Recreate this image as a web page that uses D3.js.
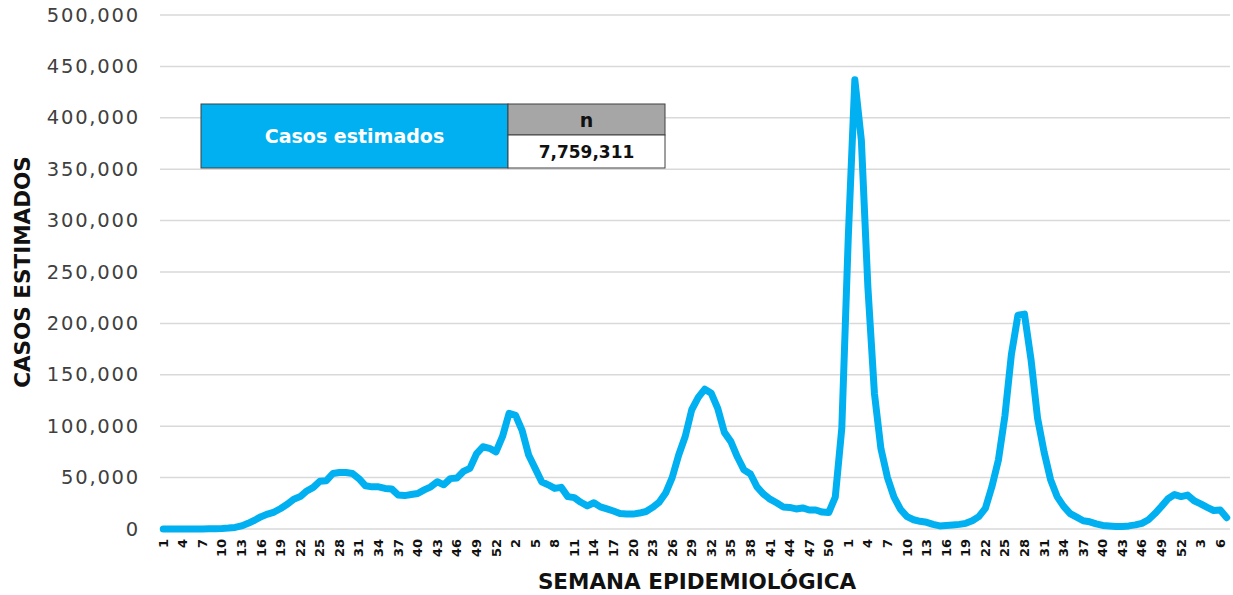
<!DOCTYPE html>
<html>
<head>
<meta charset="utf-8">
<script src="https://cdn.jsdelivr.net/npm/d3@7/dist/d3.min.js"></script>
<style>
  html, body { margin: 0; padding: 0; background: #fff; }
  svg { display: block; }
</style>
</head>
<body>
<svg id="chart" width="1233" height="595"></svg>
<script>
// ---- Data ----
const weeks2020 = [1,2,3,4,5,6,7,8,9,10,11,12,13,14,15,16,17,18,19,20,21,22,23,24,25,26,27,28,29,30,31,32,33,34,35,36,37,38,39,40,41,42,43,44,45,46,47,48,49,50,51,52,53];
const weeks2021 = [1,2,3,4,5,6,7,8,9,10,11,12,13,14,15,16,17,18,19,20,21,22,23,24,25,26,27,28,29,30,31,32,33,34,35,36,37,38,39,40,41,42,43,44,45,46,47,48,49,50,51,52];
const weeks2022 = [1,2,3,4,5,6,7,8,9,10,11,12,13,14,15,16,17,18,19,20,21,22,23,24,25,26,27,28,29,30,31,32,33,34,35,36,37,38,39,40,41,42,43,44,45,46,47,48,49,50,51,52];
const weeks2023 = [1,2,3,4,5,6,7];

const cases2020 = [0,0,0,0,0,0,100,200,300,500,900,1500,3000,5500,8500,12000,14500,16500,20000,24000,29000,31500,37000,40500,46500,47000,54000,55000,55000,54000,49000,42000,41000,41000,39500,39000,33000,32500,33500,34500,38000,41000,46000,43000,49000,49500,56000,59000,73000,80000,78500,75000,90000];
const cases2021 = [112500,110500,96000,72000,59000,46000,43000,39500,40500,31500,30500,26000,22500,25500,21500,19500,17500,15000,14500,14500,15500,17000,21000,26000,35000,50000,72000,90000,116000,128000,136000,132000,117000,94000,85000,70000,57500,53500,41000,34000,29000,25500,21500,21000,19500,20500,18500,18500,16500,16000,31000,98000];
const cases2022 = [285000,437000,378000,235000,132000,78000,50000,31000,19000,12000,9000,7500,6500,4500,3000,3500,4000,4500,5500,8000,12000,20000,41000,67000,110000,170000,208000,209000,165000,108000,75000,48000,31500,22000,15000,11500,8000,7000,5000,3500,3000,2500,2500,3000,4000,5500,9000,15000,22000,29500,33500,31500];
const cases2023 = [33000,27500,24500,21000,18000,18500,11000];

const yTicks = [0,50000,100000,150000,200000,250000,300000,350000,400000,450000,500000];
const tableLabel = "Casos estimados";
const tableHeader = "n";
const tableTotal = "7,759,311";
const yTitle = "CASOS ESTIMADOS";
const xTitle = "SEMANA EPIDEMIOLÓGICA";

(function () {
  const weekLabels = [].concat(weeks2020, weeks2021, weeks2022, weeks2023);
  const cases = [].concat(cases2020, cases2021, cases2022, cases2023);
  const idx = d3.range(cases.length);

  const svg = d3.select("#chart");
  const pLeft = 160, pRight = 1230, pTop = 15, pBottom = 529;

  const x = d3.scalePoint().domain(idx).range([pLeft, pRight]).padding(0.5);
  const y = d3.scaleLinear().domain([0, 500000]).range([pBottom, pTop]);

  const FONT = "'DejaVu Sans', sans-serif";

  // gridlines
  svg.append("g").selectAll("line").data(yTicks).join("line")
    .attr("x1", pLeft).attr("x2", pRight)
    .attr("y1", d => y(d)).attr("y2", d => y(d))
    .attr("stroke", "#d9d9d9").attr("stroke-width", 1.5);

  // y axis labels
  const fmt = d3.format(",");
  svg.append("g").selectAll("text").data(yTicks).join("text")
    .attr("x", 140).attr("y", d => y(d))
    .attr("text-anchor", "end").attr("dominant-baseline", "central")
    .attr("font-family", FONT).attr("font-size", 19.5)
    .attr("letter-spacing", 1.8)
    .attr("fill", "#404040")
    .text(d => fmt(d));

  // x axis labels (every 3rd week)
  const labelIdx = idx.filter(i => i % 3 === 0);
  svg.append("g").selectAll("text").data(labelIdx).join("text")
    .attr("transform", i => `translate(${x(i)},539) rotate(-90)`)
    .attr("text-anchor", "end").attr("dominant-baseline", "central")
    .attr("font-family", FONT).attr("font-size", 13).attr("font-weight", "bold")
    .attr("fill", "#111")
    .text(i => weekLabels[i]);

  // line
  const line = d3.line().x((d, i) => x(i)).y(d => y(d));
  svg.append("path").datum(cases)
    .attr("d", line)
    .attr("fill", "none")
    .attr("stroke", "#00b0f0")
    .attr("stroke-width", 7)
    .attr("stroke-linejoin", "round")
    .attr("stroke-linecap", "round");

  // axis titles
  svg.append("text")
    .attr("transform", "translate(22,272) rotate(-90)")
    .attr("text-anchor", "middle").attr("dominant-baseline", "central")
    .attr("font-family", FONT).attr("font-size", 21.5).attr("font-weight", "bold")
    .attr("fill", "#111")
    .text(yTitle);

  svg.append("text")
    .attr("x", 697).attr("y", 581)
    .attr("text-anchor", "middle").attr("dominant-baseline", "central")
    .attr("font-family", FONT).attr("font-size", 21.5).attr("font-weight", "bold")
    .attr("fill", "#111")
    .text(xTitle);

  // table
  const tb = svg.append("g");
  tb.append("rect").attr("x", 201).attr("y", 104).attr("width", 307).attr("height", 64)
    .attr("fill", "#00b0f0").attr("stroke", "#404040").attr("stroke-width", 1);
  tb.append("rect").attr("x", 508).attr("y", 104).attr("width", 157).attr("height", 31)
    .attr("fill", "#a6a6a6").attr("stroke", "#404040").attr("stroke-width", 1);
  tb.append("rect").attr("x", 508).attr("y", 135).attr("width", 157).attr("height", 33)
    .attr("fill", "#ffffff").attr("stroke", "#404040").attr("stroke-width", 1);
  tb.append("text").attr("x", 354.5).attr("y", 136)
    .attr("text-anchor", "middle").attr("dominant-baseline", "central")
    .attr("font-family", FONT).attr("font-size", 19).attr("font-weight", "bold")
    .attr("fill", "#ffffff").text(tableLabel);
  tb.append("text").attr("x", 586.5).attr("y", 120)
    .attr("text-anchor", "middle").attr("dominant-baseline", "central")
    .attr("font-family", FONT).attr("font-size", 19).attr("font-weight", "bold")
    .attr("fill", "#111").text(tableHeader);
  tb.append("text").attr("x", 586.5).attr("y", 152)
    .attr("text-anchor", "middle").attr("dominant-baseline", "central")
    .attr("font-family", FONT).attr("font-size", 17).attr("font-weight", "bold")
    .attr("fill", "#111").text(tableTotal);
})();
</script>
</body>
</html>
